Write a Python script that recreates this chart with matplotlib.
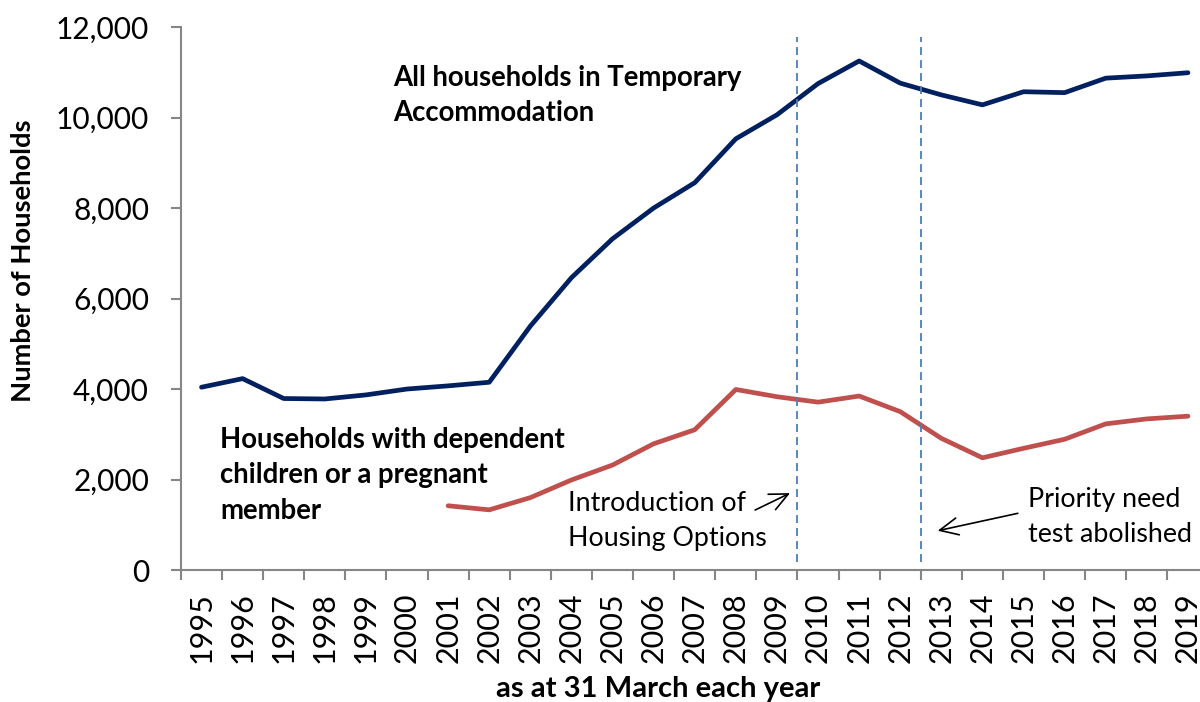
import matplotlib
matplotlib.use("Agg")
import matplotlib.pyplot as plt
from matplotlib.ticker import FuncFormatter

plt.rcParams['font.family'] = ['Lato', 'DejaVu Sans']

years = [str(y) for y in range(1995, 2020)]

# all households in temporary accommodation
all_hh = [4040, 4230, 3790, 3780, 3870, 4000, 4070, 4150, 5390, 6460,
          7320, 8000, 8560, 9530, 10060, 10750, 11250, 10760, 10500, 10280,
          10570, 10550, 10870, 10920, 10990]

# households with children / pregnant member (series starts 2001)
child_years = years[6:]
child_hh = [1420, 1330, 1600, 1990, 2320, 2790, 3100, 3990, 3830, 3710,
            3845, 3500, 2910, 2480, 2690, 2890, 3230, 3340, 3400]

fig = plt.figure(figsize=(12, 7.02), dpi=100)
ax = fig.add_axes([0.1508, 0.188, 0.8563, 0.7735])

xpos = list(range(len(years)))
cx = [years.index(y) for y in child_years]

ax.plot(xpos, all_hh, color='#002060', lw=3.4, solid_joinstyle='round', solid_capstyle='round')
ax.plot(cx, child_hh, color='#C0504D', lw=3.4, solid_joinstyle='round', solid_capstyle='round')

# policy change markers, between categories
for xv in [years.index('2009') + 0.5, years.index('2012') + 0.5]:
    ax.vlines(xv, 180, 11780, colors='#4A7EBB', linestyles=(0, (4.4, 2.8)), lw=1.3)

ax.set_xlim(-0.5, len(years) - 0.5)
ax.set_ylim(0, 12000)
ax.set_yticks(range(0, 12001, 2000))
ax.yaxis.set_major_formatter(FuncFormatter(lambda v, p: f'{int(v):,}'))
ax.set_xticks(xpos)
ax.set_xticklabels(years, rotation=90)
ax.set_xticks([i - 0.5 for i in range(len(years) + 1)], minor=True)

for s in ['top', 'right']:
    ax.spines[s].set_visible(False)
for s in ['left', 'bottom']:
    ax.spines[s].set_color('#868686')
    ax.spines[s].set_linewidth(1.5)

ax.tick_params(axis='y', length=7, width=1.5, color='#868686', labelsize=21.5, pad=16)
ax.tick_params(axis='x', which='major', length=0, labelsize=22, pad=16)
ax.tick_params(axis='x', which='minor', length=7, width=1.5, color='#868686')

fig.text(23 / 1200, 1 - 261 / 702, 'Number of Households', fontsize=19.7, fontweight='bold',
         rotation=90, ha='center', va='center')
fig.text(658 / 1200, 5 / 702, 'as at 31 March each year', fontsize=21, fontweight='bold',
         ha='center', va='baseline')

ax.text(4.66, 9920, 'All households in Temporary\nAccommodation', fontsize=19.8,
        fontweight='bold', va='baseline', linespacing=1.45)
ax.text(0.45, 1130, 'Households with dependent\nchildren or a pregnant\nmember', fontsize=19.8,
        fontweight='bold', va='baseline', linespacing=1.45)

arrow = dict(arrowstyle='->,head_length=0.6,head_width=0.28', color='black', lw=1.2,
             mutation_scale=22, shrinkA=0, shrinkB=0)

ax.text(8.92, 537, 'Introduction of\nHousing Options', fontsize=19.3, va='baseline', linespacing=1.47)
ax.annotate('', xy=(14.32, 1700), xytext=(13.47, 1326), arrowprops=arrow)

ax.text(20.11, 625, 'Priority need\ntest abolished', fontsize=19.3, va='baseline', linespacing=1.47)
ax.annotate('', xy=(17.91, 868), xytext=(19.86, 1253), arrowprops=arrow)

fig.savefig('out.png', dpi=100)
